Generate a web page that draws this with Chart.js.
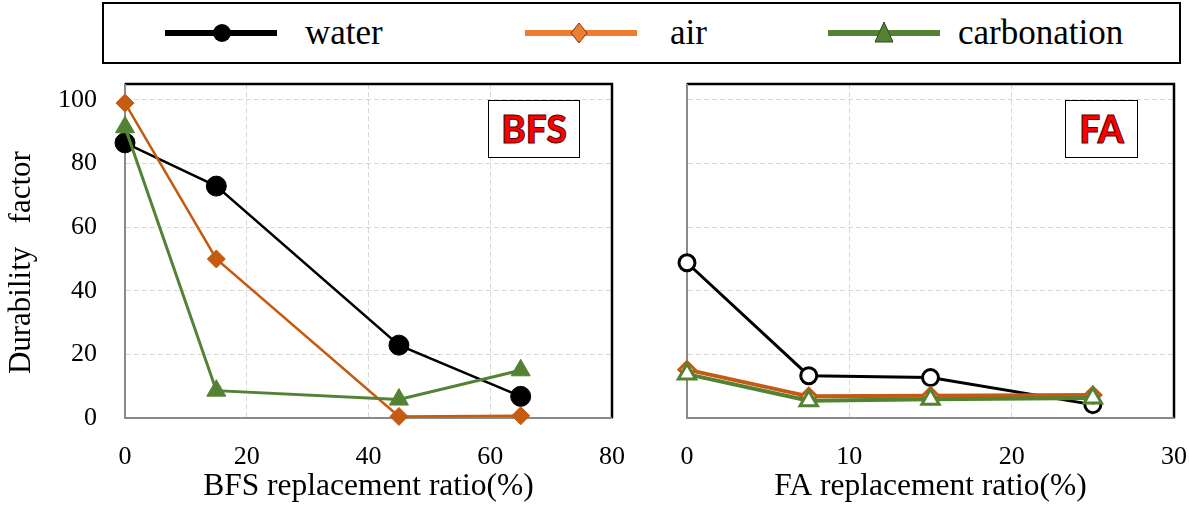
<!DOCTYPE html>
<html>
<head>
<meta charset="utf-8">
<script src="https://cdn.jsdelivr.net/npm/chart.js@4/dist/chart.umd.min.js"></script>
<style>
  html, body { margin: 0; padding: 0; background: #fff; }
  body { width: 1189px; height: 507px; position: relative; overflow: hidden; font-family: "Liberation Serif", "Times New Roman", serif; }
  canvas { position: absolute; top: 0; }
  #legend { position: absolute; left: 102px; top: 2px; width: 1075px; height: 58px; border: 2px solid #000; background: #fff; }
  #legend svg { position: absolute; left: 0; top: 0; }
  .lg-text { position: absolute; top: 4px; font-size: 35px; line-height: 50px; color: #000; }
  .tag { position: absolute; top: 100px; height: 56px; border: 1.5px solid #000; background: #fff;
         font-family: Lato, "Open Sans", sans-serif; font-weight: 900; font-size: 37px; line-height: 56px;
         text-align: center; color: #ff0000; -webkit-text-stroke: 1px #5a0000; }
</style>
</head>
<body>
<div id="legend">
  <svg id="lgsvg" width="1075" height="58"></svg>
  <span class="lg-text" style="left:201px">water</span>
  <span class="lg-text" style="left:566px">air</span>
  <span class="lg-text" style="left:854px">carbonation</span>
</div>
<canvas id="bfs" width="650" height="507" style="left:0"></canvas>
<canvas id="fa" width="600" height="507" style="left:640px"></canvas>
<div class="tag" style="left:488px; width:90px">BFS</div>
<div class="tag" style="left:1065px; width:71px">FA</div>

<script>
// Replacement ratios (%)
const bfsRatio = [0, 15, 45, 65];
const faRatio = [0, 7.5, 15, 25];

// Durability factor, BFS mixes
const bfsWater = [86.5, 72.9, 22.9, 6.8];
const bfsAir = [99, 50, 0.5, 0.7];
const bfsCarb = [91.4, 8.6, 5.8, 15];

// Durability factor, FA mixes
const faWater = [48.8, 13.3, 12.7, 4.2];
const faAir = [15.2, 6.8, 7.0, 7.2];
const faCarb = [13.8, 5.4, 5.9, 6.3];

const seriesNames = ['water', 'air', 'carbonation'];
const yTicks = [0, 20, 40, 60, 80, 100];

const BLACK = '#000000';
const ORANGE = '#C55A11';
const GREEN = '#548235';
const SERIF = '"Liberation Serif", "Times New Roman", serif';

function pts(xs, ys) { return xs.map((x, i) => ({ x: x, y: ys[i] })); }

// legend symbols
(function () {
  const s = document.getElementById('lgsvg');
  const ns = 'http://www.w3.org/2000/svg';
  function el(tag, attrs) {
    const e = document.createElementNS(ns, tag);
    for (const k in attrs) e.setAttribute(k, attrs[k]);
    s.appendChild(e);
  }
  const cy = 29;
  el('line', { x1: 61, y1: cy, x2: 173, y2: cy, stroke: '#000', 'stroke-width': 6 });
  el('circle', { cx: 118, cy: cy, r: 9, fill: '#000' });
  el('line', { x1: 421, y1: cy, x2: 533, y2: cy, stroke: '#ED7D31', 'stroke-width': 6 });
  el('polygon', { points: '475,' + (cy - 10) + ' 483,' + cy + ' 475,' + (cy + 10) + ' 467,' + cy, fill: '#ED7D31', stroke: '#843C0C', 'stroke-width': 1 });
  el('line', { x1: 724, y1: cy, x2: 836, y2: cy, stroke: '#548235', 'stroke-width': 6 });
  el('polygon', { points: '780,' + (cy - 11) + ' 789,' + (cy + 9) + ' 771,' + (cy + 9), fill: '#548235', stroke: '#2f4a1d', 'stroke-width': 1 });
})();

// plot-area frame: grey axis lines left/bottom, black edges top/right
const framePlugin = {
  id: 'frame',
  beforeDatasetsDraw(chart) {
    const a = chart.chartArea, c = chart.ctx;
    c.save();
    c.setLineDash([]);
    c.lineWidth = 2.5;
    c.strokeStyle = '#000';
    c.beginPath();
    c.moveTo(a.left, a.top); c.lineTo(a.right, a.top); c.lineTo(a.right, a.bottom);
    c.stroke();
    c.lineWidth = 2;
    c.strokeStyle = '#8a8a8a';
    c.beginPath();
    c.moveTo(a.left, a.top); c.lineTo(a.left, a.bottom); c.lineTo(a.right, a.bottom);
    c.stroke();
    c.restore();
  }
};

function makeDatasets(xs, w, a, cb, hollow, widths) {
  const bg = (col) => hollow ? '#ffffff' : col;
  return [
    { label: seriesNames[2], data: pts(xs, cb), borderColor: GREEN, borderWidth: widths[2], clip: false,
      pointStyle: 'triangle', pointRadius: hollow ? 10 : 11, pointBackgroundColor: bg(GREEN),
      pointBorderColor: GREEN, pointBorderWidth: hollow ? 3 : 1 },
    { label: seriesNames[1], data: pts(xs, a), borderColor: ORANGE, borderWidth: widths[1], clip: false,
      pointStyle: 'rectRot', pointRadius: hollow ? 8 : 9, pointBackgroundColor: bg(ORANGE),
      pointBorderColor: ORANGE, pointBorderWidth: hollow ? 3 : 1 },
    { label: seriesNames[0], data: pts(xs, w), borderColor: BLACK, borderWidth: widths[0], clip: false,
      pointStyle: 'circle', pointRadius: hollow ? 8 : 10, pointBackgroundColor: bg(BLACK),
      pointBorderColor: BLACK, pointBorderWidth: hollow ? 3 : 1 }
  ];
}

function makeChart(id, datasets, xMax, xStep, opts) {
  return new Chart(document.getElementById(id), {
    type: 'line',
    data: { datasets: datasets },
    plugins: [framePlugin],
    options: {
      responsive: false,
      animation: false,
      devicePixelRatio: 1,
      layout: { padding: opts.padding },
      plugins: { legend: { display: false }, tooltip: { enabled: false } },
      elements: { line: { tension: 0 } },
      scales: {
        x: {
          type: 'linear', min: 0, max: xMax,
          ticks: { stepSize: xStep, padding: 24, color: '#000', font: { family: SERIF, size: 26 } },
          grid: { color: '#d9d9d9', lineWidth: 1, drawTicks: false },
          border: { display: true, color: '#8a8a8a', width: 2, dash: [5, 3] },
          title: { display: true, text: opts.xTitle, color: '#000', font: { family: SERIF, size: 31.5 },
                   padding: { top: 0, bottom: 1 } },
          afterFit(scale) { scale.height = 89; }
        },
        y: {
          type: 'linear', min: 0, max: 105,
          afterBuildTicks(scale) { scale.ticks = yTicks.map(v => ({ value: v })); },
          ticks: { display: opts.yLabels, padding: 28, color: '#000', font: { family: SERIF, size: 26 } },
          grid: { color: '#d9d9d9', lineWidth: 1, drawTicks: false },
          border: { display: true, color: '#8a8a8a', width: 2, dash: [5, 3] },
          title: { display: opts.yLabels, text: 'Durability   factor   ', color: '#000',
                   font: { family: SERIF, size: 31 }, padding: { top: 3, bottom: 0 } },
          afterFit(scale) { scale.width = opts.yWidth; }
        }
      }
    }
  });
}

makeChart('bfs', makeDatasets(bfsRatio, bfsWater, bfsAir, bfsCarb, false, [2.5, 2.5, 3]), 80, 20,
  { padding: { top: 84, right: 38, bottom: 0, left: 0 }, xTitle: 'BFS replacement ratio(%)', yLabels: true, yWidth: 125 });

makeChart('fa', makeDatasets(faRatio, faWater, faAir, faCarb, true, [3, 4, 4]), 30, 10,
  { padding: { top: 84, right: 66, bottom: 0, left: 0 }, xTitle: 'FA replacement ratio(%)', yLabels: false, yWidth: 47 });
</script>
</body>
</html>
